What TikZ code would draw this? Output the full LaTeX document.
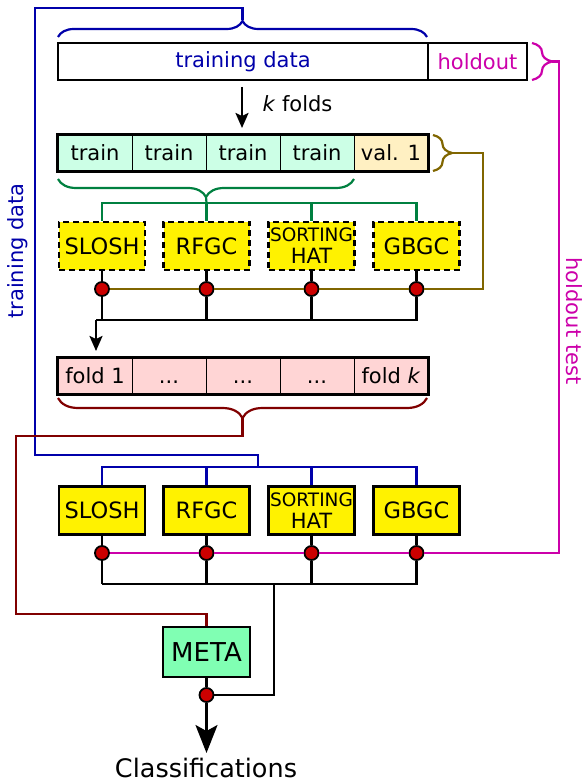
\documentclass[tikz,border=0pt]{standalone}
\usepackage{fontspec}
\setmainfont{DejaVu Sans}
\usetikzlibrary{decorations.pathreplacing,arrows.meta}
\definecolor{cblue}{RGB}{0,0,170}
\definecolor{cmag}{RGB}{204,0,170}
\definecolor{cgreen}{RGB}{0,128,64}
\definecolor{cbrown}{RGB}{128,102,0}
\definecolor{cdred}{RGB}{128,0,0}
\definecolor{ctrain}{RGB}{204,255,230}
\definecolor{cval}{RGB}{255,240,194}
\definecolor{cfold}{RGB}{255,213,213}
\definecolor{cmeta}{RGB}{128,255,179}
\definecolor{cdot}{RGB}{204,0,0}
\tikzset{
  txt/.style={font=\fontsize{21}{24}\selectfont},
  cell/.style={txt, draw, line width=1pt, minimum width=74pt, minimum height=36pt, inner sep=0pt},
  clf/.style={draw, line width=2.5pt, fill=yellow, minimum width=86pt, minimum height=48pt, inner sep=0pt, align=center, font=\fontsize{22.5}{25}\selectfont},
  dclf/.style={clf, dashed, dash pattern=on 6pt off 4pt},
  dotn/.style={circle, draw, line width=1.8pt, fill=cdot, minimum size=14pt, inner sep=0pt},
  wire/.style={line width=2.2pt},
  brc/.style={decorate, line width=2.2pt},
  sharp/.style={line join=miter}
}
\newcommand{\sh}{{\fontsize{18.5}{18}\selectfont SORTING}\\[-3pt]{\fontsize{21}{21}\selectfont HAT}}
\begin{document}
\begin{tikzpicture}[x=1pt,y=-1pt]
\useasboundingbox (0,0) rectangle (585,783);
% top data bar
\node[txt, draw, line width=2.5pt, minimum width=370pt, minimum height=37pt, inner sep=0pt, text=cblue] (td) at (243,61.5) {training data};
\node[txt, draw, line width=2.5pt, minimum width=99pt, minimum height=37pt, inner sep=0pt, text=cmag] (ho) at (477.5,61.5) {holdout};
% braces
\draw[cblue, brc, decoration={brace, amplitude=16pt}] (58,37) -- (427,37);
\coordinate (bt) at (242.5,20);
\draw[cmag, brc, decoration={brace, amplitude=20pt}] (532,43) -- (532,80);
\coordinate (mt) at (552,61.5);
% k folds
\coordinate (ka) at (242,87);
\coordinate (kb) at (242,128);
\draw[wire, -{Stealth[length=15pt,width=13pt,inset=3pt]}] (ka) -- (kb);
\node[txt, anchor=west] (kf) at (259,104) {\textit{k} folds};
% train row
\node[cell, fill=ctrain] (t1) at (95,153) {train};
\node[cell, fill=ctrain] (t2) at (169,153) {train};
\node[cell, fill=ctrain] (t3) at (243,153) {train};
\node[cell, fill=ctrain] (t4) at (317,153) {train};
\node[cell, fill=cval] (v1) at (391,153) {val. 1};
\draw[line width=2.5pt] (t1.north west) rectangle (v1.south east);
\draw[cgreen, brc, decoration={brace, amplitude=18pt}] (354,179) -- (58,179);
\coordinate (gt) at (206,197);
\draw[cbrown, brc, decoration={brace, amplitude=19pt}] (433,135) -- (433,171);
\coordinate (brt) at (452,153);
% dashed classifiers
\node[dclf] (s1) at (102,246) {SLOSH};
\node[dclf] (r1) at (206.5,246) {RFGC};
\node[dclf] (h1) at (311.5,246) {\sh};
\node[dclf] (g1) at (416.5,246) {GBGC};
% green connectors
\draw[cgreen, wire, sharp] (gt) -- (206.5,203);
\draw[cgreen, wire, sharp] (s1.north) -- (102,203) -- (416.5,203) -- (g1.north);
\draw[cgreen, wire] (r1.north) -- (206.5,203);
\draw[cgreen, wire] (h1.north) -- (311.5,203);
% dots row 1
\node[dotn] (d1) at (102,289) {};
\node[dotn] (d2) at (206.5,289) {};
\node[dotn] (d3) at (311.5,289) {};
\node[dotn] (d4) at (416.5,289) {};
\draw[cbrown, wire, sharp] (brt) -- (483,153) -- (483,289) -- (d4);
\draw[cbrown, wire] (d4) -- (d3) (d3) -- (d2) (d2) -- (d1);
\foreach \n/\d in {s1/d1,r1/d2,h1/d3,g1/d4} \draw[wire] (\n.south) -- (\d);
\draw[wire, sharp] (d1) -- (102,320);
\draw[wire, sharp] (d2) -- (206.5,320);
\draw[wire, sharp] (d3) -- (311.5,320);
\draw[wire, sharp] (d4) -- (416.5,320) -- (96,320);
% fold row
\node[cell, fill=cfold] (f1) at (95,376) {fold 1};
\node[cell, fill=cfold] (f2) at (169,376) {\vphantom{fold}...};
\node[cell, fill=cfold] (f3) at (243,376) {\vphantom{fold}...};
\node[cell, fill=cfold] (f4) at (317,376) {\vphantom{fold}...};
\node[cell, fill=cfold] (f5) at (391,376) {fold \textit{k}};
\draw[line width=2.5pt] (f1.north west) rectangle (f5.south east);
\coordinate (fa) at (96,320);
\draw[wire, sharp, -{Stealth[length=15pt,width=13pt,inset=3pt]}] (fa) -- (96,351);
\draw[cdred, brc, decoration={brace, amplitude=20pt}] (427,398) -- (58,398);
\coordinate (dt) at (242.5,418);
% bottom classifiers
\node[clf] (s2) at (102,510.5) {SLOSH};
\node[clf] (r2) at (206.5,510.5) {RFGC};
\node[clf] (h2) at (311.5,510.5) {\sh};
\node[clf] (g2) at (416.5,510.5) {GBGC};
% blue connectors
\draw[cblue, wire, sharp] (bt) -- (242.5,8) -- (35,8) -- (35,455) -- (258,455) -- (258,467);
\draw[cblue, wire, sharp] (s2.north) -- (102,467) -- (416.5,467) -- (g2.north);
\draw[cblue, wire] (r2.north) -- (206.5,467);
\draw[cblue, wire] (h2.north) -- (311.5,467);
\node[txt, text=cblue, rotate=90] (tdl) at (18,251) {training data};
% dots row 2
\node[dotn] (e1) at (102,553) {};
\node[dotn] (e2) at (206.5,553) {};
\node[dotn] (e3) at (311.5,553) {};
\node[dotn] (e4) at (416.5,553) {};
\draw[cmag, wire, sharp] (mt) -- (559,61.5) -- (559,553) -- (e4);
\draw[cmag, wire] (e4) -- (e3) (e3) -- (e2) (e2) -- (e1);
\node[txt, text=cmag, rotate=-90] (hol) at (574,321) {holdout test};
\foreach \n/\d in {s2/e1,r2/e2,h2/e3,g2/e4} \draw[wire] (\n.south) -- (\d);
\draw[wire, sharp] (e1) -- (102,584);
\draw[wire, sharp] (e2) -- (206.5,584);
\draw[wire, sharp] (e3) -- (311.5,584);
\draw[wire, sharp] (e4) -- (416.5,584) -- (102,584);
% meta
\node[draw, line width=2.5pt, fill=cmeta, minimum width=87pt, minimum height=50pt, inner sep=0pt, font=\fontsize{26}{28}\selectfont] (meta) at (206.5,652) {META};
\node[dotn] (md) at (206.5,695) {};
\draw[wire] (meta.south) -- (md);
\draw[wire, sharp] (274,584) -- (274,695) -- (md);
\draw[cdred, wire, sharp] (dt) -- (242.5,436) -- (16,436) -- (16,614) -- (206.5,614) -- (meta.north);
\node[anchor=base, inner sep=0pt, font=\fontsize{25.5}{28}\selectfont] (cls) at (206,777.5) {Classifications};
\coordinate (at) at (206.5,753);
\draw[wire, -{Stealth[length=28pt,width=22pt,inset=6pt]}] (md) -- (at);
\end{tikzpicture}
\end{document}
